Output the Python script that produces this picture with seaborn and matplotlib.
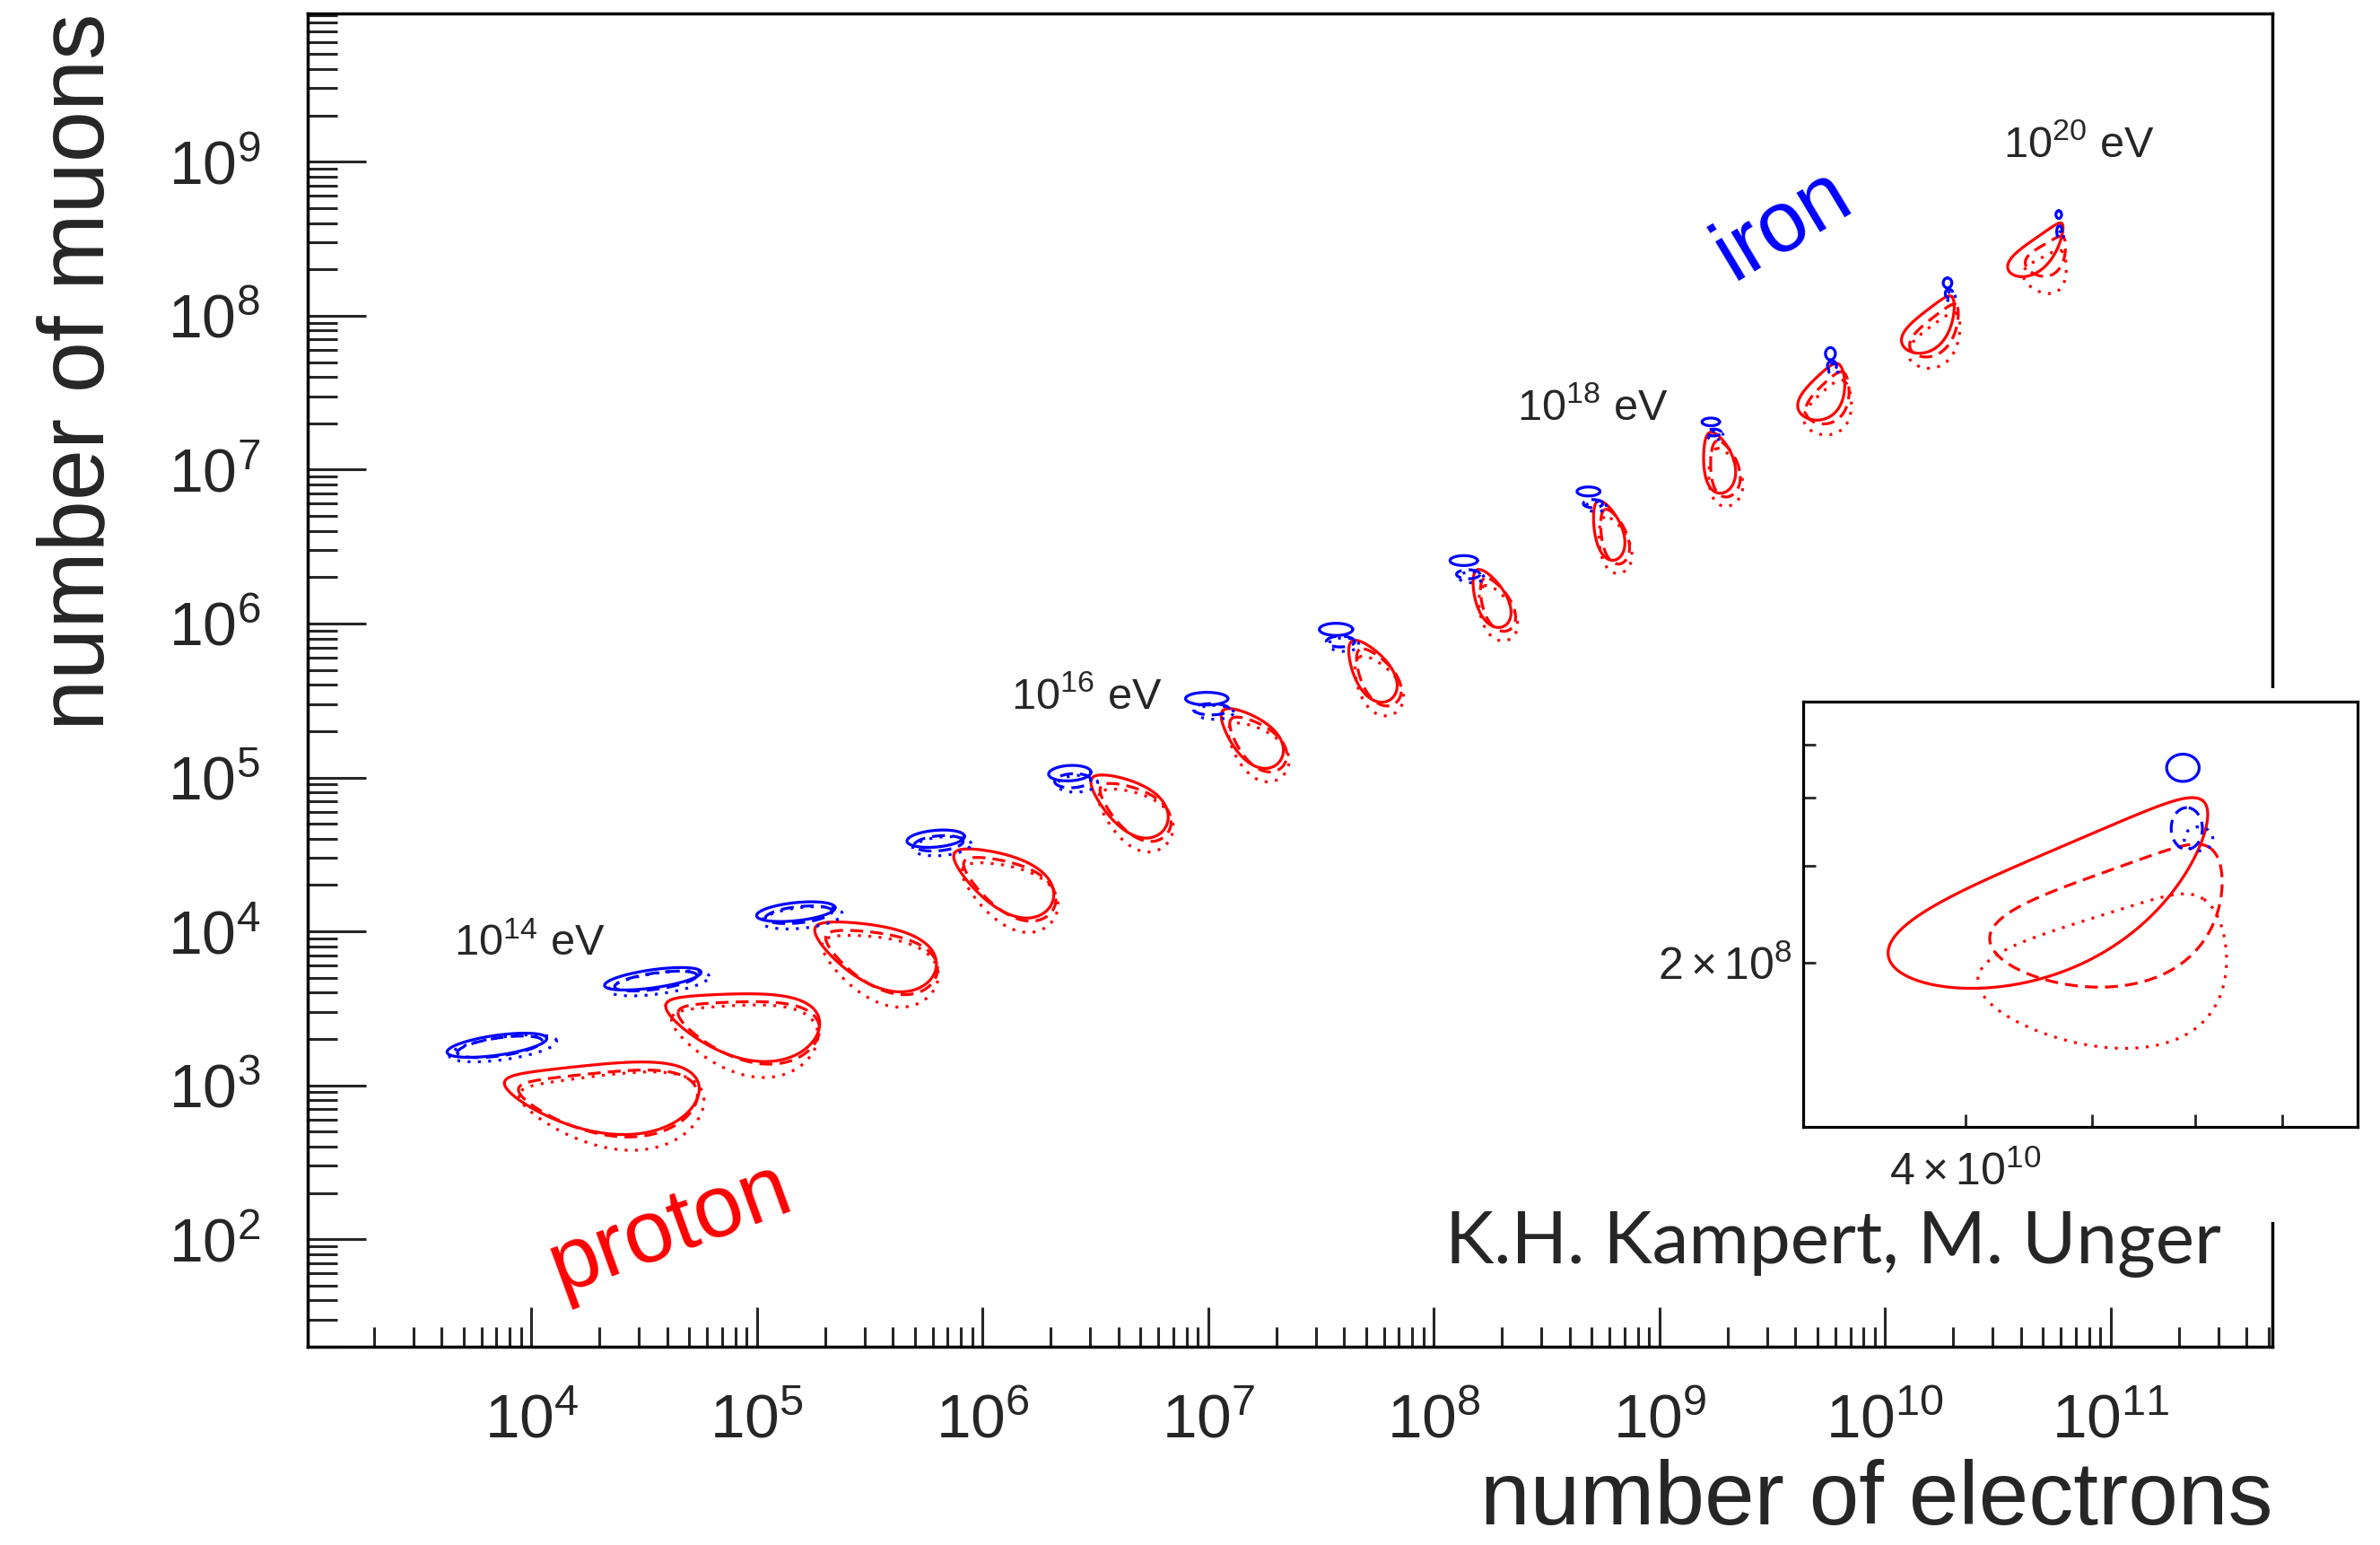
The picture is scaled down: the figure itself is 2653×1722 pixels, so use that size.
import numpy as np
import pandas as pd
import matplotlib
matplotlib.use("Agg")
import matplotlib.pyplot as plt
import seaborn as sns
from matplotlib.ticker import LogLocator, NullFormatter, FixedLocator, FixedFormatter, NullLocator, LogFormatterSciNotation
from matplotlib.patches import Rectangle

# ---------------- data (log10 values) ----------------
lgE = [14.0, 14.5, 15.0, 15.5, 16.0, 16.5, 17.0, 17.5, 18.0, 18.5, 19.0, 19.5, 20.0]

# proton contours: centre (lgNe, lgNmu), half length a, half width b (in decades of Ne),
# orientation of the narrow end (deg), taper and bending of the contour
p_ang = [178, 172, 160, 152, 145, 137, 123, 115, 106, 101, 56, 48, 43]
p_taper = [0.35, 0.35, 0.35, 0.35, 0.33, 0.30, 0.27, 0.25, 0.25, 0.25, 0.30, 0.33, 0.35]
p_bend = [0.35, 0.30, 0.15, 0.05, 0.0, 0.0, 0.0, 0.0, -0.10, -0.15, -0.30, -0.35, -0.40]
p1_x = [4.312, 4.936, 5.523, 6.089, 6.645, 7.188, 7.721, 8.250, 8.766, 9.252, 9.717, 10.192, 10.668]
p1_y = [2.993, 3.450, 3.880, 4.340, 4.830, 5.265, 5.695, 6.165, 6.605, 7.045, 7.515, 7.955, 8.440]
p1_a = [0.432, 0.344, 0.283, 0.243, 0.196, 0.169, 0.155, 0.138, 0.136, 0.137, 0.139, 0.154, 0.158]
p1_b = [0.152, 0.142, 0.128, 0.115, 0.101, 0.088, 0.079, 0.067, 0.061, 0.067, 0.081, 0.074, 0.061]

p2_x = [4.339, 4.963, 5.550, 6.116, 6.672, 7.215, 7.748, 8.277, 8.793, 9.279, 9.744, 10.219, 10.712]
p2_y = [2.953, 3.410, 3.840, 4.300, 4.790, 5.225, 5.655, 6.125, 6.565, 7.005, 7.475, 7.915, 8.405]
p2_a = [0.397, 0.316, 0.260, 0.224, 0.180, 0.155, 0.143, 0.127, 0.125, 0.126, 0.128, 0.142, 0.106]
p2_b = [0.140, 0.131, 0.118, 0.106, 0.093, 0.081, 0.073, 0.062, 0.056, 0.062, 0.075, 0.068, 0.064]

p3_x = [4.355, 4.945, 5.543, 6.116, 6.672, 7.215, 7.748, 8.277, 8.793, 9.279, 9.744, 10.219, 10.708]
p3_y = [2.915, 3.366, 3.791, 4.251, 4.741, 5.176, 5.600, 6.070, 6.510, 6.950, 7.415, 7.855, 8.312]
p3_a = [0.410, 0.327, 0.269, 0.231, 0.186, 0.161, 0.147, 0.131, 0.129, 0.130, 0.132, 0.146, 0.105]
p3_b = [0.164, 0.153, 0.138, 0.124, 0.109, 0.095, 0.085, 0.072, 0.066, 0.072, 0.087, 0.080, 0.080]

# iron contours
fe_ang = [8, 8, 6, 5, 3, 0, 0, 0, 0, 0, 90, 90, 90]
f1_x = [3.847, 4.538, 5.172, 5.792, 6.386, 6.993, 7.566, 8.132, 8.685, 9.227, 9.757, 10.276, 10.769]
f1_y = [3.260, 3.692, 4.128, 4.602, 5.028, 5.512, 5.962, 6.409, 6.858, 7.310, 7.753, 8.213, 8.657]
f1_a = [0.223, 0.216, 0.175, 0.128, 0.094, 0.094, 0.074, 0.061, 0.051, 0.039, 0.027, 0.022, 0.017]
f1_b = [0.044, 0.040, 0.040, 0.037, 0.034, 0.028, 0.027, 0.022, 0.020, 0.017, 0.022, 0.019, 0.0125]

f2_x = [3.860, 4.551, 5.185, 5.805, 6.399, 7.013, 7.586, 8.152, 8.705, 9.240, 9.764, 10.283, 10.772]
f2_y = [3.250, 3.677, 4.108, 4.572, 4.979, 5.443, 5.883, 6.320, 6.779, 7.241, 7.674, 8.144, 8.546]
f2_a = [0.190, 0.184, 0.149, 0.109, 0.080, 0.080, 0.063, 0.052, 0.043, 0.033, 0.023, 0.019, 0.026]
f2_b = [0.040, 0.036, 0.036, 0.033, 0.031, 0.025, 0.024, 0.020, 0.018, 0.015, 0.020, 0.017, 0.012]

f3_x = [3.874, 4.565, 5.199, 5.819, 6.420, 7.027, 7.600, 8.166, 8.719, 9.247, 9.770, 10.289, 10.781]
f3_y = [3.240, 3.662, 4.088, 4.553, 4.959, 5.423, 5.863, 6.300, 6.759, 7.221, 7.654, 8.124, 8.527]
f3_a = [0.240, 0.225, 0.180, 0.130, 0.090, 0.085, 0.067, 0.055, 0.046, 0.035, 0.024, 0.020, 0.015]
f3_b = [0.050, 0.046, 0.046, 0.041, 0.037, 0.031, 0.030, 0.024, 0.022, 0.019, 0.024, 0.021, 0.011]

models = ["model 1", "model 2", "model 3"]
energy_labels = [r"$10^{14}$ eV", r"$10^{16}$ eV", r"$10^{18}$ eV", r"$10^{20}$ eV"]
energy_label_x = [3.657, 6.127, 8.367, 10.522]
energy_label_y = [3.842, 5.444, 7.322, 9.029]

# ---------------- helpers ----------------
ASPECT = 1.467   # screen length of an Ne decade / screen length of an Nmu decade


def contour(cx, cy, a, b, ang, k, bend, n=240):
    t = np.linspace(0, 2 * np.pi, n)
    u = np.cos(t)
    v = np.sin(t) * (1 - k * u) + bend * (1 - u ** 2)
    U, V = a * u, b * v
    th = np.deg2rad(ang)
    X = U * np.cos(th) - V * np.sin(th)
    Y = U * np.sin(th) + V * np.cos(th)
    return 10 ** (cx + X), 10 ** (cy + Y * ASPECT)


zeros = [0.0] * len(lgE)
sets = [
    ("proton", models[0], p1_x, p1_y, p1_a, p1_b, p_ang, p_taper, p_bend),
    ("proton", models[1], p2_x, p2_y, p2_a, p2_b, p_ang, p_taper, p_bend),
    ("proton", models[2], p3_x, p3_y, p3_a, p3_b, p_ang, p_taper, p_bend),
    ("iron", models[0], f1_x, f1_y, f1_a, f1_b, fe_ang, zeros, zeros),
    ("iron", models[1], f2_x, f2_y, f2_a, f2_b, fe_ang, zeros, zeros),
    ("iron", models[2], f3_x, f3_y, f3_a, f3_b, fe_ang, zeros, zeros),
]
frames = []
cid = 0
for prim, mod, xs, ys, as_, bs, angs, tapers, bends in sets:
    for i, e in enumerate(lgE):
        X, Y = contour(xs[i], ys[i], as_[i], bs[i], angs[i], tapers[i], bends[i])
        frames.append(pd.DataFrame({"Ne": X, "Nmu": Y, "primary": prim, "model": mod,
                                    "lgE": e, "cid": cid}))
        cid += 1
df = pd.concat(frames, ignore_index=True)

# ---------------- style ----------------
sns.set_style("ticks")
plt.rcParams["font.family"] = ["Liberation Sans", "DejaVu Sans"]
plt.rcParams["mathtext.fontset"] = "custom"
plt.rcParams["mathtext.rm"] = "Liberation Sans"
plt.rcParams["mathtext.it"] = "Liberation Sans:italic"
plt.rcParams["mathtext.bf"] = "Liberation Sans:bold"
plt.rcParams["axes.linewidth"] = 2.5

palette = {"proton": "#ff0000", "iron": "#0000ff"}
dashes = {models[0]: "", models[1]: (4.5, 2.5), models[2]: (1, 2.6)}

fig = plt.figure(figsize=(26.53, 17.22), dpi=100)
ax = fig.add_axes([0.1293, 0.1283, 0.8255, 0.8630])
ax.set_xscale("log")
ax.set_yscale("log")

sns.lineplot(data=df, x="Ne", y="Nmu", hue="primary", style="model", units="cid",
             estimator=None, sort=False, palette=palette, dashes=dashes,
             linewidth=2.3, legend=False, ax=ax)

ax.set_xlim(1.02e3, 5.2e11)
ax.set_ylim(20, 9.2e9)
for axis in (ax.xaxis, ax.yaxis):
    axis.set_major_locator(LogLocator(base=10, numticks=40))
    axis.set_minor_locator(LogLocator(base=10, subs=np.arange(2, 10), numticks=400))
    axis.set_minor_formatter(NullFormatter())
    axis.set_major_formatter(LogFormatterSciNotation())

ax.tick_params(axis="x", which="major", direction="in", length=32, width=2.2,
               labelsize=50, pad=37, top=False)
ax.tick_params(axis="x", which="minor", direction="in", length=16, width=2.2, top=False)
ax.tick_params(axis="y", which="major", direction="in", length=47, width=2.2,
               labelsize=49, pad=38, right=False)
ax.tick_params(axis="y", which="minor", direction="in", length=24, width=2.2, right=False)
for s in ax.spines.values():
    s.set_visible(True)
    s.set_linewidth(2.5)
    s.set_color("black")

ax.set_xlabel("number of electrons", fontsize=72, loc="right")
ax.xaxis.set_label_coords(1.0, -0.0841)
ax.xaxis.label.set_va("top")
ax.set_ylabel("number of muons", fontsize=74, loc="top")
ax.yaxis.set_label_coords(-0.094, 1.0)

for lab, lx, ly in zip(energy_labels, energy_label_x, energy_label_y):
    ax.text(10 ** lx, 10 ** ly, lab, fontsize=35, ha="left", va="baseline")

ax.text(10 ** 9.546, 10 ** 8.591, "iron", color="#0000ff", fontsize=69, rotation=31,
        ha="center", va="center")
ax.text(10 ** 4.618, 10 ** 2.070, "proton", color="#ff0000", fontsize=71, rotation=20,
        ha="center", va="center")

# white-out of the frame behind the inset / credit
fig.add_artist(Rectangle((0.9480, 0.2091), 0.016, 0.3455, transform=fig.transFigure,
                         facecolor="white", edgecolor="none", zorder=1))

# ---------------- inset: 10^20 eV ----------------
axin = fig.add_axes([0.7576, 0.2706, 0.2329, 0.2753])
axin.set_zorder(3)
axin.set_facecolor("white")
axin.set_xscale("log")
axin.set_yscale("log")
sns.lineplot(data=df[df["lgE"] == 20.0], x="Ne", y="Nmu", hue="primary", style="model",
             units="cid", estimator=None, sort=False, palette=palette, dashes=dashes,
             linewidth=2.3, legend=False, ax=axin)
axin.set_xlim(3e10, 8e10)
axin.set_ylim(1e8, 6e8)
axin.xaxis.set_major_locator(FixedLocator([4e10, 5e10, 6e10, 7e10]))
axin.xaxis.set_major_formatter(FixedFormatter([r"$4\times10^{10}$", "", "", ""]))
axin.yaxis.set_major_locator(FixedLocator([2e8, 3e8, 4e8, 5e8]))
axin.yaxis.set_major_formatter(FixedFormatter([r"$2\times10^{8}$", "", "", ""]))
axin.xaxis.set_minor_locator(NullLocator())
axin.yaxis.set_minor_locator(NullLocator())
axin.tick_params(axis="both", which="major", direction="in", length=10, width=2.0,
                 labelsize=36, top=False, right=False)
axin.tick_params(axis="x", pad=19)
axin.tick_params(axis="y", pad=9)
axin.set_xlabel("")
axin.set_ylabel("")
for s in axin.spines.values():
    s.set_visible(True)
    s.set_linewidth(2.3)
    s.set_color("black")

fig.text(0.9333, 0.1823, "K.H. Kampert, M. Unger", fontsize=59, family=["Lato", "DejaVu Sans"],
         ha="right", va="baseline", zorder=5)

fig.savefig("out.png", dpi=100)
